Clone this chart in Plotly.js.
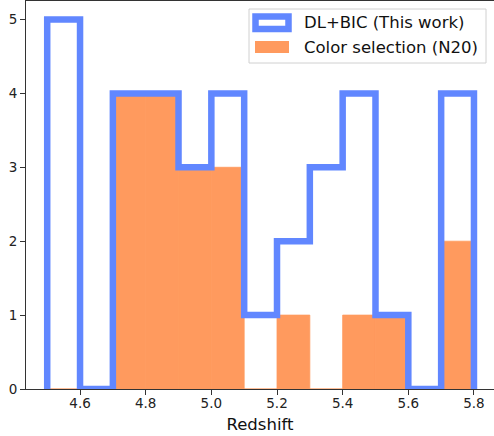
<!DOCTYPE html>
<html>
<head>
<meta charset="utf-8">
<script src="https://cdn.plot.ly/plotly-3.0.1.min.js"></script>
<style>html,body{margin:0;padding:0;background:#fff;}</style>
</head>
<body>
<div id="chart" style="width:494px;height:436px;"></div>
<script>
// Histogram bin edges (redshift) and counts
const binEdges = [4.5, 4.6, 4.7, 4.8, 4.9, 5.0, 5.1, 5.2, 5.3, 5.4, 5.5, 5.6, 5.7, 5.8];
const dlbicCounts = [5, 0, 4, 4, 3, 4, 1, 2, 3, 4, 1, 0, 4];
const colorSelCounts = [0, 0, 4, 4, 3, 3, 0, 1, 0, 1, 1, 0, 2];
const seriesNames = ["DL+BIC (This work)", "Color selection (N20)"];
const xTicks = [4.6, 4.8, 5.0, 5.2, 5.4, 5.6, 5.8];
const yTicks = [0, 1, 2, 3, 4, 5];

const BLUE = "#6187FF";
const ORANGE = "#FF9A5E";
const W = 494, H = 436;
const M = {l: 26, r: 0, t: 1, b: 47};

// step outline for DL+BIC
const stepX = [binEdges[0]];
const stepY = [0];
for (let i = 0; i < dlbicCounts.length; i++) { stepX.push(binEdges[i]); stepY.push(dlbicCounts[i]); }
stepX.push(binEdges[binEdges.length - 1]); stepY.push(0);

const binWidth = binEdges.slice(0, -1).map((e, i) => binEdges[i + 1] - e);

const traces = [
  {
    type: "bar",
    name: seriesNames[1],
    x: binEdges.slice(0, -1),
    y: colorSelCounts,
    width: binWidth,
    offset: 0,
    marker: {color: ORANGE, line: {width: 0.8, color: ORANGE}},
    showlegend: false
  },
  {
    type: "scatter",
    mode: "lines",
    name: seriesNames[0],
    x: stepX,
    y: stepY,
    line: {shape: "hv", color: BLUE, width: 6.5},
    showlegend: false
  }
];

// helpers: pixel -> paper coords (for the legend drawn by hand)
const pw = W - M.l - M.r, ph = H - M.t - M.b;
const px = x => (x - M.l) / pw;
const py = y => 1 - (y - M.t) / ph;

const shapes = [
  {type: "rect", xref: "paper", yref: "paper", x0: px(249), x1: px(486), y0: py(9), y1: py(63),
   fillcolor: "rgba(255,255,255,0.85)", line: {color: "#d0d0d0", width: 1}, layer: "above"},
  {type: "rect", xref: "paper", yref: "paper", x0: px(255.5), x1: px(288.5), y0: py(16.5), y1: py(29),
   fillcolor: "#ffffff", line: {color: BLUE, width: 6.5}, layer: "above"},
  {type: "rect", xref: "paper", yref: "paper", x0: px(255), x1: px(289), y0: py(41), y1: py(53),
   fillcolor: ORANGE, line: {width: 0}, layer: "above"}
];

const annotations = [
  {xref: "paper", yref: "paper", x: px(302), y: py(22.5), xanchor: "left", yanchor: "middle",
   text: seriesNames[0], showarrow: false, font: {family: "DejaVu Sans", size: 16.5, color: "#111"}},
  {xref: "paper", yref: "paper", x: px(302), y: py(47), xanchor: "left", yanchor: "middle",
   text: seriesNames[1], showarrow: false, font: {family: "DejaVu Sans", size: 16.5, color: "#111"}}
];

const layout = {
  width: W, height: H,
  margin: {l: M.l, r: M.r, t: M.t, b: M.b, pad: 0},
  paper_bgcolor: "#fff", plot_bgcolor: "#fff",
  font: {family: "DejaVu Sans", color: "#222"},
  showlegend: false,
  barmode: "overlay",
  xaxis: {
    range: [4.4354, 5.861],
    tickvals: xTicks, ticktext: xTicks.map(v => v.toFixed(1)),
    ticks: "outside", ticklen: 5, tickwidth: 1, tickcolor: "#333",
    ticklabelstandoff: -3,
    showline: true, linecolor: "#333", linewidth: 1, mirror: true,
    showgrid: false, zeroline: false,
    tickfont: {size: 13.5, color: "#222"},
    title: {text: "Redshift", font: {size: 16.5, color: "#111"}, standoff: 8}
  },
  yaxis: {
    range: [0, 5.25],
    tickvals: yTicks, ticktext: yTicks.map(String),
    ticks: "outside", ticklen: 5, tickwidth: 1, tickcolor: "#333",
    showline: true, linecolor: "#333", linewidth: 1, mirror: true,
    showgrid: false, zeroline: false,
    tickfont: {size: 13.5, color: "#222"}
  },
  shapes: shapes,
  annotations: annotations
};

Plotly.newPlot("chart", traces, layout, {displayModeBar: false, staticPlot: true});
</script>
</body>
</html>
